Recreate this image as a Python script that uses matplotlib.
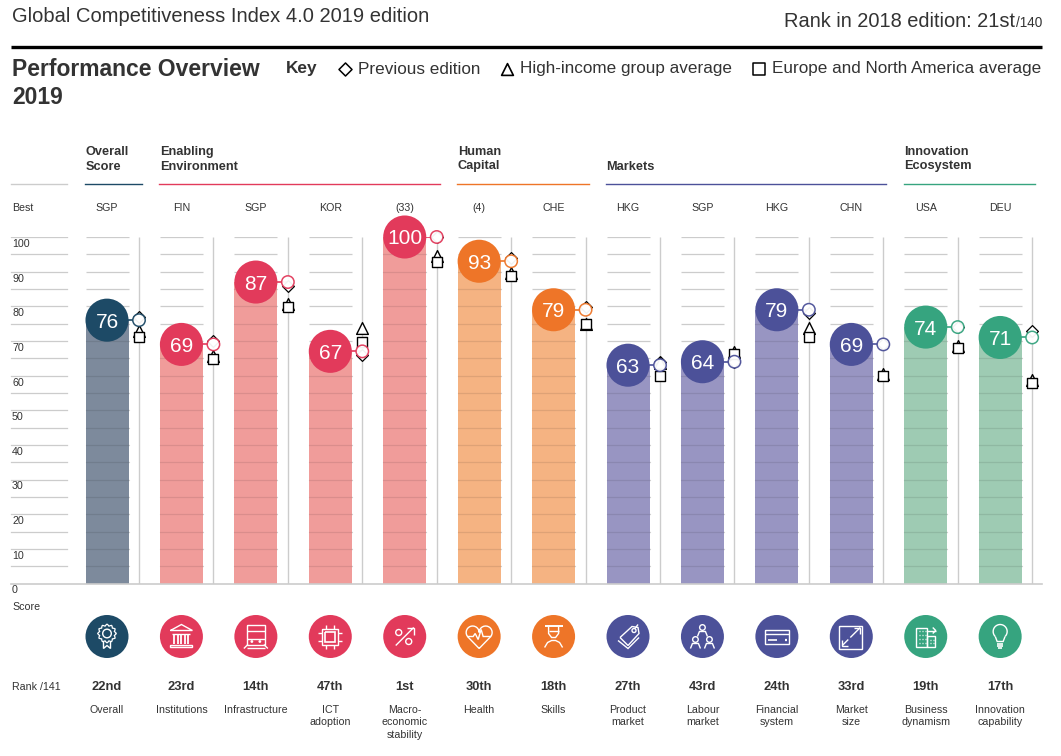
import matplotlib
matplotlib.use('Agg')
import matplotlib.pyplot as plt
import numpy as np
from matplotlib.patches import Circle

plt.rcParams['font.family'] = ['Liberation Sans', 'DejaVu Sans']

# data
pillars = ['Overall', 'Institutions', 'Infrastructure', 'ICT\nadoption', 'Macro-\neconomic\nstability',
           'Health', 'Skills', 'Product\nmarket', 'Labour\nmarket', 'Financial\nsystem',
           'Market\nsize', 'Business\ndynamism', 'Innovation\ncapability']
best = ['SGP', 'FIN', 'SGP', 'KOR', '(33)', '(4)', 'CHE', 'HKG', 'SGP', 'HKG', 'CHN', 'USA', 'DEU']
ranks = ['22nd', '23rd', '14th', '47th', '1st', '30th', '18th', '27th', '43rd', '24th', '33rd', '19th', '17th']
scores = [76, 69, 87, 67, 100, 93, 79, 63, 64, 79, 69, 74, 71]
previous = [76.8, 70, 85.9, 66, 100, 94, 79.8, 64, 64, 78.2, 69, 74, 72.9]
high_income = [72.9, 65.8, 80.7, 73.7, 94.5, 89.6, 75, 63.5, 66.8, 73.7, 60.5, 68.5, 58.7]
europe = [71.1, 64.8, 79.9, 69.8, 92.9, 88.8, 75, 60, 66.2, 71, 59.9, 68, 58]
tick_values = [0, 10, 20, 30, 40, 50, 60, 70, 80, 90, 100]
grid_values = list(range(5, 105, 5))

groups = [('Overall\nScore', 0, 0), ('Enabling\nEnvironment', 1, 4), ('Human\nCapital', 5, 6),
          ('Markets', 7, 10), ('Innovation\nEcosystem', 11, 12)]
dark_colors = ['#1d4a66', '#e23a5b', '#ee7528', '#4c5199', '#36a47f']
bar_colors = ['#7d8a9c', '#f09c9a', '#f5b382', '#9895c2', '#9ecbb3']
col_group = [0, 1, 1, 1, 1, 2, 2, 3, 3, 3, 3, 4, 4]

W, H = 1061, 756
text_color = '#333333'
grid_color = '#cccccc'
step = 74.43     # px between columns
first = 107      # px centre of first column
bar_w = 43 / step
line_off = 32 / step
y0_px, y100_px = 583.5, 237

fig = plt.figure(figsize=(W / 100, H / 100), dpi=100, facecolor='white')

# chart axes: columns on x, score on y
ax = fig.add_axes([0, (H - y0_px) / H, 1, (y0_px - y100_px) / H])
ax.set_xlim(-first / step, (W - first) / step)
ax.set_ylim(0, 100)
ax.axis('off')

# pixel axes for the furniture around the chart
px = fig.add_axes([0, 0, 1, 1], zorder=-1)
px.set_xlim(0, W)
px.set_ylim(H, 0)
px.axis('off')

x = np.arange(len(scores))
colors = [dark_colors[g] for g in col_group]
bcolors = [bar_colors[g] for g in col_group]

# grid stubs over each column and left of the chart
for gv in grid_values:
    ax.hlines(np.full(len(x), gv), x - bar_w / 2, x + bar_w / 2, color=grid_color, lw=0.9, zorder=1)
    ax.plot([(11 - first) / step, (67 - first) / step], [gv, gv], color=grid_color, lw=0.9, zorder=1)
ax.bar(x, scores, width=bar_w, color=bcolors, zorder=2)
for gv in grid_values:
    for xi, sc in zip(x, scores):
        if gv < sc:
            ax.plot([xi - bar_w / 2, xi + bar_w / 2], [gv, gv], color='black', alpha=0.09, lw=0.9, zorder=3)
ax.plot([(11 - first) / step, (1042 - first) / step], [0, 0], color=grid_color, lw=1.2, zorder=4, clip_on=False)

# comparison markers on the thin vertical rule
xl = x + line_off
ax.vlines(xl, 0, 100, color=grid_color, lw=1, zorder=1)
ax.hlines(scores, x, xl, colors=colors, lw=1.2, zorder=5)
ax.scatter(xl, previous, marker='D', s=36, facecolor='white', edgecolor='black', lw=0.9, zorder=6, clip_on=False)
ax.scatter(xl, high_income, marker='^', s=72, facecolor='white', edgecolor='black', lw=1, zorder=7, clip_on=False)
ax.scatter(xl, europe, marker='s', s=46, facecolor='white', edgecolor='black', lw=1, zorder=8, clip_on=False)
ax.scatter(xl, scores, marker='o', s=80, facecolor='white', edgecolor=colors, lw=1.1, alpha=0.95, zorder=9, clip_on=False)
ax.scatter(x, scores, marker='o', s=961, color=colors, lw=0, zorder=10, clip_on=False)
for xi, sc in zip(x, scores):
    ax.text(xi, sc, str(sc), color='white', fontsize=15, ha='center', va='center_baseline', zorder=11, clip_on=False)

# y labels sit just under their grid line
for tv in tick_values:
    ax.annotate(str(tv), xy=((12 - first) / step, tv), xytext=(0, -5), textcoords='offset points',
                fontsize=7.7, color=text_color, ha='left', va='center', annotation_clip=False)


def put(xp, yp, s, size=7.7, weight='normal', ha='left', va='center', color=text_color, **kw):
    px.text(xp, yp, s, fontsize=size, fontweight=weight, ha=ha, va=va, color=color, **kw)


# header
put(12, 16, 'Global Competitiveness Index 4.0 2019 edition', size=14.5)
put(1015, 27, 'Rank in 2018 edition: 21st', size=14.45, ha='right', va='baseline')
put(1042, 27, '/140', size=9.8, ha='right', va='baseline')
px.plot([11, 1042], [46.5, 46.5], color='black', lw=2.4, solid_capstyle='butt')
put(12, 69, 'Performance Overview', size=16.5, weight='bold')
put(12, 97, '2019', size=16.5, weight='bold')
put(286, 69, 'Key', size=12.4, weight='bold')
put(358, 69, 'Previous edition', size=12.3)
put(520, 69, 'High-income group average', size=12.3)
put(772, 69, 'Europe and North America average', size=12.3)
px.scatter([345], [69], marker='D', s=44, facecolor='white', edgecolor='black', lw=1.1)
px.scatter([507], [69], marker='^', s=72, facecolor='white', edgecolor='black', lw=1.2)
px.scatter([759], [69], marker='s', s=70, facecolor='white', edgecolor='black', lw=1.1)

# group headings and their coloured rules
px.plot([11, 67], [184, 184], color=grid_color, lw=1)
for (label, a, b), col in zip(groups, dark_colors):
    left = first + a * step - 22
    right = first + b * step + 35
    px.plot([left, right], [184, 184], color=col, lw=1)
    lines = label.split('\n')
    for k, line in enumerate(reversed(lines)):
        put(left + 0.5, 166.5 - k * 14.5, line, size=9.2, weight='bold')

put(12, 208, 'Best')
put(12, 607, 'Score')
put(12, 687, 'Rank /141')
for i in range(len(scores)):
    xc = first + i * step
    put(xc, 208, best[i], ha='center')
    put(xc, 687, ranks[i], size=9.3, weight='bold', ha='center')
    for k, line in enumerate(pillars[i].split('\n')):
        put(xc, 710 + k * 12.3, line, ha='center')
    px.add_patch(Circle((xc, 636.5), 21.5, color=colors[i], lw=0))


# icons, in pixels relative to the disc centre
def pl(c, pts, lw=1):
    p = np.array(pts, dtype=float)
    px.plot(c[0] + p[:, 0], c[1] + p[:, 1], color='white', lw=lw, solid_joinstyle='miter', solid_capstyle='butt')


def ci(c, dx, dy, r, lw=1):
    px.add_patch(Circle((c[0] + dx, c[1] + dy), r, fill=False, ec='white', lw=lw))


def box(c, x0, y0, x1, y1, lw=1):
    pl(c, [(x0, y0), (x1, y0), (x1, y1), (x0, y1), (x0, y0)], lw)


def icon_medal(c):
    t = np.linspace(0, 2 * np.pi, 49)
    r = 8.5 + 0.9 * np.cos(12 * t)
    pl(c, np.column_stack([r * np.cos(t), -3 + r * np.sin(t)]), 0.9)
    ci(c, 0, -3, 4.3)
    pl(c, [(-3.5, 5), (-3.5, 12), (0, 9), (3.5, 12), (3.5, 5)])


def icon_bank(c):
    pl(c, [(-11, -6), (0, -12), (11, -6), (-11, -6)])
    pl(c, [(-9, -3), (9, -3)])
    for dx in (-7, -3.5, 0, 3.5, 7):
        pl(c, [(dx, -2), (dx, 7)], 1.3)
    box(c, -11, 8, 11, 10)


def icon_train(c):
    box(c, -9, -12, 9, 8)
    pl(c, [(-9, -6), (9, -6)])
    pl(c, [(-9, 2), (9, 2)])
    pl(c, [(-8, 8), (-12, 12)])
    pl(c, [(8, 8), (12, 12)])
    pl(c, [(-9, 11), (9, 11)])
    ci(c, -4, 5, 0.7)
    ci(c, 4, 5, 0.7)


def icon_chip(c):
    box(c, -8, -8, 8, 8)
    box(c, -5, -5, 5, 5, 1.2)
    for d in (-4, 4):
        pl(c, [(d, -12), (d, -8)])
        pl(c, [(d, 8), (d, 12)])
        pl(c, [(-12, d), (-8, d)])
        pl(c, [(8, d), (12, d)])


def icon_macro(c):
    pl(c, [(-9, 9), (9, -9)])
    pl(c, [(2, -9), (9, -9), (9, -2)])
    ci(c, -6, -4, 3)
    ci(c, 4, 5, 3)


def icon_health(c):
    # two lobes running down to a point
    right = np.radians(np.linspace(180, 400, 16))
    left = np.radians(np.linspace(140, 360, 16))
    outline = [(6.5 + 6.5 * np.cos(a), -4 + 6.5 * np.sin(a)) for a in right]
    outline = [(0, 12)] + outline[::-1]
    outline += [(-6.5 + 6.5 * np.cos(a), -4 + 6.5 * np.sin(a)) for a in left[::-1]]
    outline += [(0, 12)]
    pl(c, outline)
    pl(c, [(-12, 0), (-6, 0), (-4, -3), (-1, 3), (2, -7), (4, 0), (12, 0)])


def icon_skills(c):
    pl(c, [(-9, -11), (9, -11)], 1.4)
    pl(c, [(-5, -11), (-5, -6), (-5, -3), (-2, 1), (2, 1), (5, -3), (5, -11)])
    pl(c, [(-5, -6), (5, -6)])
    pl(c, [(-9, 11), (-6, 6), (-2, 4), (2, 4), (6, 6), (9, 11)])


def icon_tag(c):
    pl(c, [(-8, 1), (4, -10), (10, -9), (11, -3), (0, 9), (-8, 1)])
    pl(c, [(-10, 4), (0, 12), (11, 1)])
    ci(c, 6, -6, 2)
    pl(c, [(7, -8), (10, -12)])


def icon_people(c):
    for dx, dy in ((0, -9), (-7, 3), (7, 3)):
        ci(c, dx, dy, 2.8)
        pl(c, [(dx - 5, dy + 9), (dx - 3, dy + 4), (dx + 3, dy + 4), (dx + 5, dy + 9)])


def icon_card(c):
    box(c, -12, -7, 12, 7)
    pl(c, [(-12, -3), (12, -3)])
    pl(c, [(-9, 3), (0, 3)], 1.2)
    pl(c, [(8, 3), (10, 3)], 1.6)


def icon_size(c):
    box(c, -12, -11, 11, 12)
    pl(c, [(-1, 1), (9, -9)])
    pl(c, [(3, -9), (9, -9), (9, -3)])
    pl(c, [(-3, 3), (-9, 9)])
    pl(c, [(-9, 3), (-9, 9), (-3, 9)])


def icon_business(c):
    box(c, -10, -9, 1, 10)
    box(c, 1, -1, 9, 10)
    pl(c, [(1, -6), (10, -6)])
    pl(c, [(7, -9), (10, -6), (7, -3)])
    for dx in (-7, -4, -1):
        for dy in (-6, -2, 2, 6):
            pl(c, [(dx, dy), (dx + 1.2, dy)], 1)
    for dx in (4, 7):
        for dy in (3, 6):
            pl(c, [(dx, dy), (dx + 1, dy)], 1)


def icon_bulb(c):
    t = np.linspace(-0.25 * np.pi, 1.25 * np.pi, 30)
    pl(c, np.column_stack([7 * np.cos(t), -5 - 7 * np.sin(t)]))
    pl(c, [(4.9, 0), (3, 5), (-3, 5), (-4.9, 0)])
    for dy, hw in ((7, 3), (9, 3), (11, 2)):
        pl(c, [(-hw, dy), (hw, dy)], 1.2)


icons = [icon_medal, icon_bank, icon_train, icon_chip, icon_macro, icon_health, icon_skills,
         icon_tag, icon_people, icon_card, icon_size, icon_business, icon_bulb]
for i, draw in enumerate(icons):
    draw((first + i * step, 636.5))

px.set_xlim(0, W)
px.set_ylim(H, 0)
fig.savefig('out.png', dpi=100, facecolor='white')
